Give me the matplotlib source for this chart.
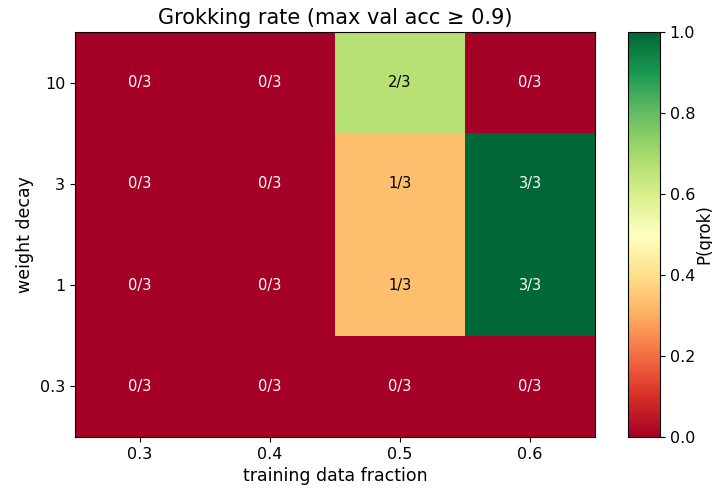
import numpy as np
import matplotlib
matplotlib.use("Agg")
import matplotlib.pyplot as plt

fractions = ["0.3", "0.4", "0.5", "0.6"]
weight_decays = ["0.3", "1", "3", "10"]
grokked = [
    [0, 0, 0, 0],   # wd 0.3
    [0, 0, 1, 3],   # wd 1
    [0, 0, 1, 3],   # wd 3
    [0, 0, 2, 0],   # wd 10
]
n_seeds = 3

rate = np.array(grokked) / n_seeds

fig = plt.figure(figsize=(7.12, 4.9), dpi=100)
ax = fig.add_axes([75/712, 1 - 437/490, 520/712, 405/490])
cax = fig.add_axes([628/712, 1 - 437/490, 32/712, 405/490])

im = ax.imshow(rate, cmap="RdYlGn", vmin=0, vmax=1, origin="lower", aspect="auto")
for i in range(len(weight_decays)):
    for j in range(len(fractions)):
        v = rate[i, j]
        color = "white" if (v < 0.3 or v > 0.7) else "black"
        ax.text(j, i, f"{grokked[i][j]}/{n_seeds}", ha="center", va="center",
                color=color, fontsize=10.5)

ax.set_xticks(range(len(fractions)))
ax.set_xticklabels(fractions, fontsize=11.5)
ax.set_yticks(range(len(weight_decays)))
ax.set_yticklabels(weight_decays, fontsize=11.5)
ax.set_xlabel("training data fraction", fontsize=12.5, labelpad=4)
ax.set_ylabel("weight decay", fontsize=12.5)
ax.set_title("Grokking rate (max val acc ≥ 0.9)", fontsize=15)

cb = fig.colorbar(im, cax=cax)
cb.ax.tick_params(labelsize=11.5)
cb.set_label("P(grok)", fontsize=12, labelpad=0)

fig.savefig("out.png", dpi=100)
